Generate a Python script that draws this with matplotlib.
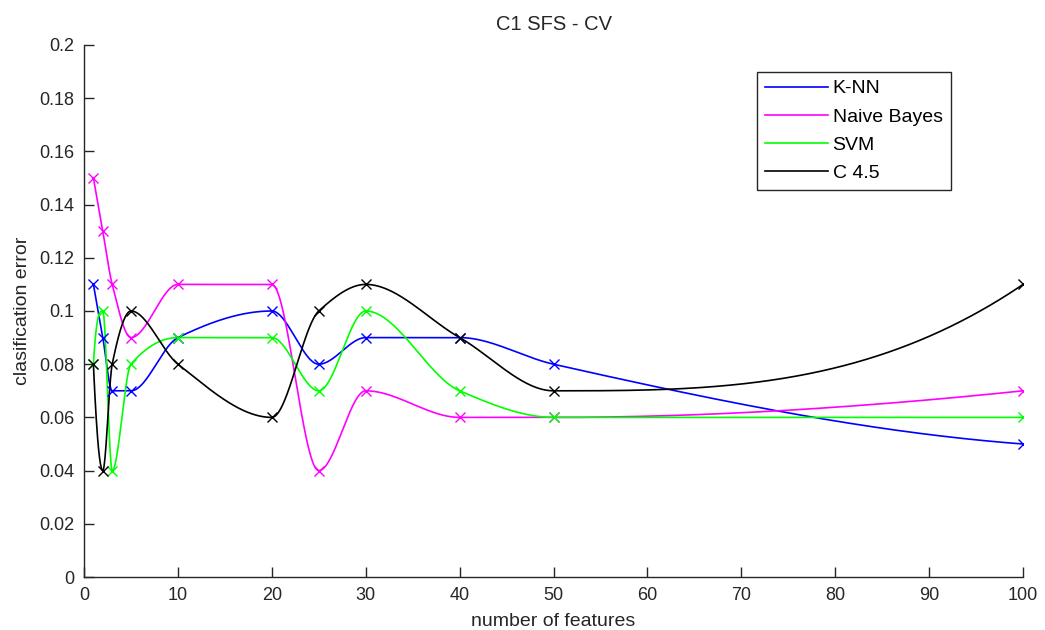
import numpy as np
import matplotlib
matplotlib.use("Agg")
import matplotlib.pyplot as plt

# number of selected features and classification error per classifier
n_features = [1, 2, 3, 5, 10, 20, 25, 30, 40, 50, 100]
knn_err = [0.11, 0.09, 0.07, 0.07, 0.09, 0.10, 0.08, 0.09, 0.09, 0.08, 0.05]
nb_err = [0.15, 0.13, 0.11, 0.09, 0.11, 0.11, 0.04, 0.07, 0.06, 0.06, 0.07]
svm_err = [0.08, 0.10, 0.04, 0.08, 0.09, 0.09, 0.07, 0.10, 0.07, 0.06, 0.06]
c45_err = [0.08, 0.04, 0.08, 0.10, 0.08, 0.06, 0.10, 0.11, 0.09, 0.07, 0.11]
labels = ["K-NN", "Naive Bayes", "SVM", "C 4.5"]
colors = ["#0000ff", "#ff00ff", "#00ff00", "#000000"]


def pchip(x, y, xq):
    """Shape-preserving piecewise cubic Hermite interpolation."""
    x = np.asarray(x, float)
    y = np.asarray(y, float)
    h = np.diff(x)
    delta = np.diff(y) / h
    n = len(x)
    d = np.zeros(n)
    for k in range(1, n - 1):
        if delta[k - 1] * delta[k] > 0:
            w1 = 2 * h[k] + h[k - 1]
            w2 = h[k] + 2 * h[k - 1]
            d[k] = (w1 + w2) / (w1 / delta[k - 1] + w2 / delta[k])

    def end_slope(h0, h1, del0, del1):
        s = ((2 * h0 + h1) * del0 - h0 * del1) / (h0 + h1)
        if np.sign(s) != np.sign(del0):
            s = 0.0
        elif np.sign(del0) != np.sign(del1) and abs(s) > abs(3 * del0):
            s = 3 * del0
        return s

    d[0] = end_slope(h[0], h[1], delta[0], delta[1])
    d[-1] = end_slope(h[-1], h[-2], delta[-1], delta[-2])

    idx = np.clip(np.searchsorted(x, xq, side="right") - 1, 0, n - 2)
    t = (xq - x[idx]) / h[idx]
    h00 = 2 * t**3 - 3 * t**2 + 1
    h10 = t**3 - 2 * t**2 + t
    h01 = -2 * t**3 + 3 * t**2
    h11 = t**3 - t**2
    return (h00 * y[idx] + h10 * h[idx] * d[idx]
            + h01 * y[idx + 1] + h11 * h[idx] * d[idx + 1])


plt.rcParams["font.family"] = ["Liberation Sans", "DejaVu Sans"]
plt.rcParams["font.size"] = 13
text_color = "#262626"

fig = plt.figure(figsize=(10.45, 6.3), dpi=100)
ax = fig.add_axes([0.0804, 0.0841, 0.979 - 0.0804, 0.9286 - 0.0841])

xs = np.linspace(n_features[0], n_features[-1], 2000)
series = [knn_err, nb_err, svm_err, c45_err]
for vals, lab, col in zip(series, labels, colors):
    ax.plot(xs, pchip(n_features, vals, xs), color=col, lw=1.2, label=lab)
for vals, col in zip(series, colors):
    ax.plot(n_features, vals, linestyle="none", marker="x", color=col,
            markersize=6.5, markeredgewidth=1.0)

ax.set_xlim(0, 100)
ax.set_ylim(0, 0.2)
ax.set_xticks(np.arange(0, 101, 10))
ax.set_yticks(np.arange(0, 0.201, 0.02))
ax.set_yticklabels(["0", "0.02", "0.04", "0.06", "0.08", "0.1", "0.12",
                    "0.14", "0.16", "0.18", "0.2"])
ax.spines["top"].set_visible(False)
ax.spines["right"].set_visible(False)
for s in ("left", "bottom"):
    ax.spines[s].set_color(text_color)
    ax.spines[s].set_linewidth(1.0)
ax.tick_params(direction="in", length=7.5, width=1.0, color=text_color,
               labelcolor=text_color, pad=7, labelsize=13)

ax.set_title("C1 SFS - CV", fontsize=14.5, color=text_color, pad=11)
ax.set_xlabel("number of features", fontsize=14, color=text_color,
              labelpad=7)
ax.set_ylabel("clasification error", fontsize=14, color=text_color,
              labelpad=6)

leg = ax.legend(loc="upper left", bbox_to_anchor=(0.717, 0.950),
                fancybox=False, edgecolor=text_color, framealpha=1,
                handlelength=3.2, handletextpad=0.25, labelspacing=0.55,
                borderpad=0.42, fontsize=14, borderaxespad=0)
leg.get_frame().set_linewidth(1.0)

fig.savefig("out.png", dpi=100)
